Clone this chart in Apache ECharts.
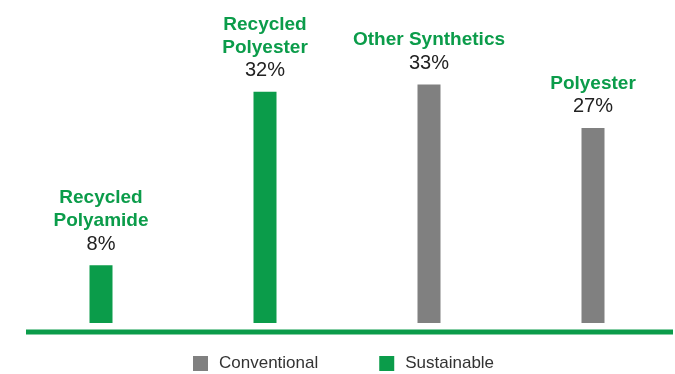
<!DOCTYPE html>
<html>
<head>
<meta charset="utf-8">
<script src="https://cdn.jsdelivr.net/npm/echarts@6/dist/echarts.min.js"></script>
<style>
  html, body { margin: 0; padding: 0; background: #fff; }
  #chart { width: 675px; height: 374px; }
</style>
</head>
<body>
<div id="chart"></div>
<script>
// Fibre categories, share (%) and whether each is sustainable or conventional
const categories = ['Recycled\nPolyamide', 'Recycled\nPolyester', 'Other Synthetics', 'Polyester'];
const shares = [8, 32, 33, 27];
const kinds = ['Sustainable', 'Sustainable', 'Conventional', 'Conventional'];
const seriesNames = ['Conventional', 'Sustainable'];

const GREEN = '#0b9c4a';
const GREY = '#808080';
const colors = { Conventional: GREY, Sustainable: GREEN };

const chart = echarts.init(document.getElementById('chart'), null, { renderer: 'canvas' });

const FONT = '"Liberation Sans", Arial, Helvetica, sans-serif';

function makeSeries(name) {
  return {
    name: name,
    type: 'bar',
    barWidth: 23,
    barGap: '-100%',
    itemStyle: { color: colors[name] },
    label: {
      show: true,
      position: 'top',
      distance: 9,
      formatter: function (p) {
        const lines = categories[p.dataIndex].split('\n').map(s => '{n|' + s + '}');
        return lines.join('\n') + '\n{v|' + p.value + '%}';
      },
      rich: {
        n: { fontFamily: FONT, fontWeight: 'bold', fontSize: 19, color: GREEN, lineHeight: 23 },
        v: { fontFamily: FONT, fontSize: 20, color: '#222', lineHeight: 24 }
      }
    },
    data: shares.map((v, i) => (kinds[i] === name ? v : '-'))
  };
}

chart.setOption({
  animation: false,
  backgroundColor: '#fff',
  grid: { left: 19, width: 660, top: 34, bottom: 51 },
  xAxis: {
    type: 'category',
    data: categories,
    axisLine: { show: false },
    axisTick: { show: false },
    axisLabel: { show: false }
  },
  yAxis: {
    type: 'value',
    min: 0,
    max: 40,
    show: false,
    splitLine: { show: false }
  },
  legend: {
    data: seriesNames,
    left: 193,
    top: 355,
    padding: 0,
    itemWidth: 15,
    itemHeight: 15,
    itemGap: 61,
    icon: 'rect',
    textStyle: { fontFamily: FONT, fontSize: 17, color: '#333', padding: [0, 0, 0, 6] }
  },
  // green baseline under the bars
  graphic: [{
    type: 'rect',
    shape: { x: 26, y: 329.5, width: 647, height: 5 },
    style: { fill: GREEN },
    silent: true
  }],
  series: seriesNames.map(makeSeries)
});
</script>
</body>
</html>
